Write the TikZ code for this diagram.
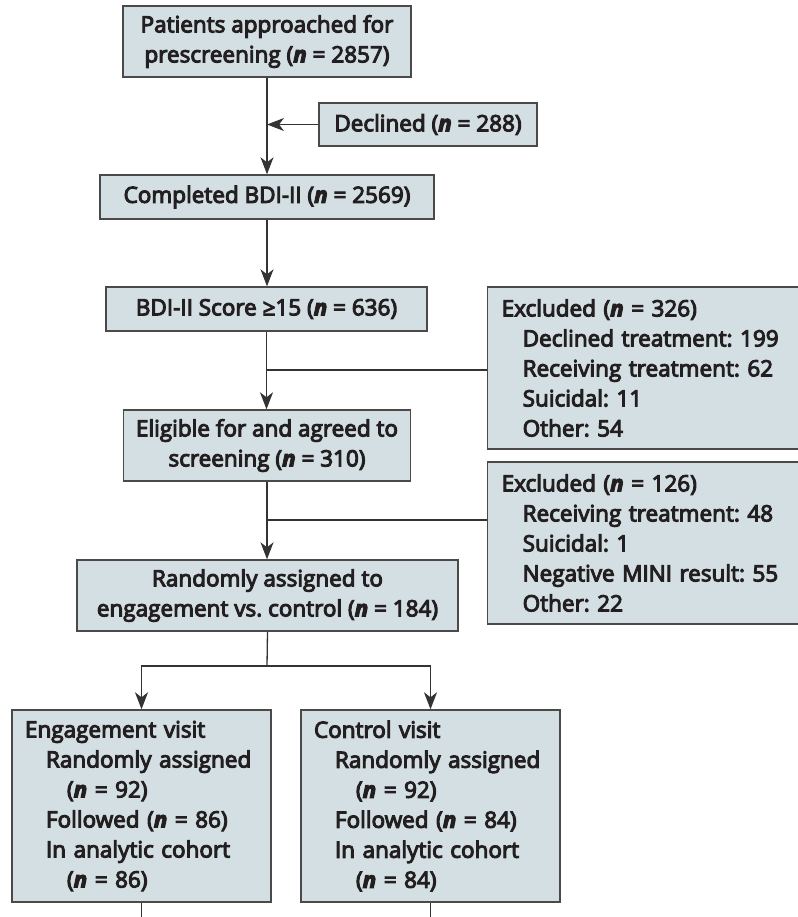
\documentclass[tikz,border=0pt]{standalone}
\usepackage{fontspec}
\setmainfont{Open Sans}[FakeBold=4.5]
\usetikzlibrary{arrows.meta,calc}
\definecolor{boxfill}{HTML}{D3DFE3}
\definecolor{boxline}{HTML}{4A4A4A}
\definecolor{txt}{HTML}{231F20}
\definecolor{conn}{HTML}{333333}
\newcommand{\nvar}{\textbf{\textit{n}}}
\frenchspacing
\tikzset{
  flowbox/.style={draw=boxline, fill=boxfill, line width=1.4pt, inner sep=0pt, align=center, text=txt,
    font=\fontsize{22.5}{30}\selectfont},
  listbox/.style={flowbox, align=left, inner xsep=14pt},
  conline/.style={color=conn, line width=1.3pt},
  arr/.style={conline, -{Stealth[length=17pt, width=13pt, inset=5pt]}}
}
\begin{document}
\begin{tikzpicture}[x=1pt,y=-1pt]
\useasboundingbox (0,0) rectangle (797,917);
% nodes
\node[flowbox, minimum width=288pt, minimum height=71pt] (p1) at (267,41.5)
  {Patients approached for\\prescreening (\nvar{} = 2857)};
\node[flowbox, minimum width=218pt, minimum height=43pt] (dec) at (428,124.5)
  {Declined (\nvar{} = 288)};
\node[flowbox, minimum width=334pt, minimum height=44pt] (c2) at (267,197)
  {Completed BDI-II (\nvar{} = 2569)};
\node[flowbox, minimum width=321pt, minimum height=44pt] (b3) at (266.5,309)
  {BDI-II Score ≥15 (\nvar{} = 636)};
\node[flowbox, minimum width=287pt, minimum height=71pt] (el) at (267,445.5)
  {Eligible for and agreed to\\screening (\nvar{} = 310)};
\node[listbox, anchor=west, minimum height=162pt, text width=290pt] (ex1) at (487,368)
  {Excluded (\nvar{} = 326)\\
   \hspace*{21pt}Declined treatment: 199\\
   \hspace*{21pt}Receiving treatment: 62\\
   \hspace*{21pt}Suicidal: 11\\
   \hspace*{21pt}Other: 54};
\node[listbox, anchor=west, minimum height=162pt, text width=290pt] (ex2) at (487,543)
  {Excluded (\nvar{} = 126)\\
   \hspace*{21pt}Receiving treatment: 48\\
   \hspace*{21pt}Suicidal: 1\\
   \hspace*{21pt}Negative MINI result: 55\\
   \hspace*{21pt}Other: 22};
\node[flowbox, minimum width=381pt, minimum height=71pt] (rnd) at (267.5,595.5)
  {Randomly assigned to\\engagement vs. control (\nvar{} = 184)};
\node[listbox, inner xsep=13pt, minimum height=192pt, text width=233pt] (eng) at (141.5,806)
  {Engagement visit\\
   \hspace*{21pt}Randomly assigned\\
   \hspace*{42pt}(\nvar{} = 92)\\
   \hspace*{21pt}Followed (\nvar{} = 86)\\
   \hspace*{21pt}In analytic cohort\\
   \hspace*{42pt}(\nvar{} = 86)};
\node[listbox, inner xsep=13pt, minimum height=192pt, text width=233pt] (ctl) at (430.5,806)
  {Control visit\\
   \hspace*{21pt}Randomly assigned\\
   \hspace*{42pt}(\nvar{} = 92)\\
   \hspace*{21pt}Followed (\nvar{} = 84)\\
   \hspace*{21pt}In analytic cohort\\
   \hspace*{42pt}(\nvar{} = 84)};
% junction coordinates
\coordinate (j1) at (267,370);
\coordinate (j2) at (267,520);
\coordinate (sp) at (267,666);
\coordinate (engend) at (141.5,920);
\coordinate (ctlend) at (430.5,920);
% connectors
\draw[arr] (p1.south) -- (c2.north);
\draw[arr] (dec.west) -- (dec.west -| p1.south);
\draw[arr] (c2.south) -- (c2.south |- b3.north);
\draw[arr] (b3.south) -- (b3.south |- el.north);
\draw[conline] (j1) -- (j1 -| ex1.west);
\draw[arr] (el.south) -- (el.south |- rnd.north);
\draw[conline] (j2) -- (j2 -| ex2.west);
\draw[conline] (rnd.south) -- (sp);
\draw[arr] (sp) -| (eng.north);
\draw[arr] (sp) -| (ctl.north);
\draw[conline] (eng.south) -- (engend);
\draw[conline] (ctl.south) -- (ctlend);
\end{tikzpicture}
\end{document}
